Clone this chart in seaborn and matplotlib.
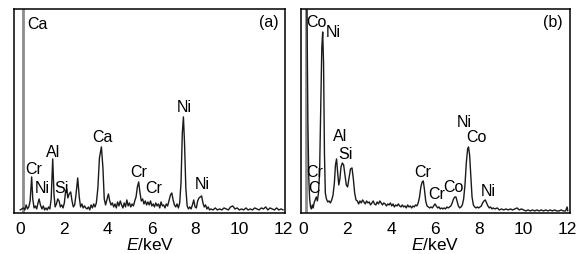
import numpy as np
import pandas as pd
import matplotlib
matplotlib.use("Agg")
import matplotlib.pyplot as plt
import seaborn as sns

# EDS spectra (intensity in arbitrary units, axis top = 204)
energy_a = [0.00, 0.08, 0.16, 0.22, 0.28, 0.34, 0.40, 0.46, 0.53, 0.58, 0.64, 0.70, 0.76, 0.82, 0.87, 0.93,
            1.00, 1.06, 1.12, 1.18, 1.24, 1.30, 1.36, 1.42, 1.49, 1.55, 1.60, 1.66, 1.72, 1.78, 1.84, 1.90,
            1.96, 2.02, 2.08, 2.13, 2.18, 2.24, 2.31, 2.37, 2.43, 2.49, 2.55, 2.63, 2.70, 2.76, 2.82, 2.88,
            2.94, 3.00, 3.06, 3.12, 3.18, 3.24, 3.30, 3.36, 3.42, 3.48, 3.55, 3.62, 3.71, 3.78, 3.84, 3.90,
            3.96, 4.03, 4.09, 4.15, 4.21, 4.27, 4.33, 4.39, 4.45, 4.51, 4.57, 4.63, 4.69, 4.75, 4.81, 4.87,
            4.93, 4.99, 5.05, 5.11, 5.17, 5.23, 5.29, 5.35, 5.41, 5.47, 5.53, 5.59, 5.65, 5.71, 5.77, 5.83,
            5.89, 5.95, 6.01, 6.07, 6.13, 6.19, 6.25, 6.31, 6.37, 6.43, 6.49, 6.55, 6.61, 6.67, 6.73, 6.79,
            6.86, 6.92, 6.98, 7.04, 7.10, 7.16, 7.22, 7.28, 7.34, 7.40, 7.45, 7.50, 7.56, 7.62, 7.68, 7.74,
            7.80, 7.86, 7.92, 7.98, 8.04, 8.10, 8.16, 8.22, 8.28, 8.34, 8.40, 8.46, 8.52, 8.58, 8.64, 8.70,
            8.80, 8.90, 9.00, 9.10, 9.20, 9.30, 9.40, 9.50, 9.60, 9.70, 9.80, 9.90, 10.0, 10.1, 10.2, 10.3,
            10.4, 10.5, 10.6, 10.7, 10.8, 10.9, 11.0, 11.1, 11.2, 11.3, 11.4, 11.5, 11.6, 11.7, 11.8, 11.9,
            12.0]
counts_a = [3, 4, 5, 3, 8, 4, 6, 12, 36, 14, 5, 7, 4, 10, 14, 8,
            4, 7, 3, 5, 3, 6, 4, 14, 54, 18, 6, 9, 14, 12, 6, 8,
            5, 10, 22, 24, 15, 19, 21, 12, 6, 8, 18, 35, 16, 6, 9, 5,
            7, 5, 4, 6, 3, 8, 5, 9, 6, 10, 25, 55, 66, 45, 14, 8,
            13, 19, 12, 8, 10, 6, 9, 5, 11, 7, 12, 8, 5, 10, 6, 13,
            7, 10, 6, 9, 7, 12, 16, 26, 31, 20, 12, 14, 9, 12, 8, 11,
            8, 12, 7, 9, 6, 10, 7, 9, 5, 11, 7, 8, 5, 9, 7, 12,
            18, 20, 13, 8, 6, 9, 5, 10, 30, 80, 96, 70, 25, 7, 4, 6,
            4, 8, 13, 6, 5, 12, 15, 16, 17, 10, 6, 8, 4, 6, 3, 4,
            3, 5, 3, 4, 3, 5, 4, 3, 6, 7, 4, 5, 3, 4, 3, 5,
            3, 4, 3, 5, 4, 3, 5, 4, 6, 3, 5, 4, 3, 5, 3, 4,
            3]

energy_b = [0.16, 0.19, 0.22, 0.26, 0.30, 0.34, 0.38, 0.42, 0.46, 0.50, 0.55, 0.60, 0.65, 0.70, 0.75, 0.80,
            0.85, 0.89, 0.93, 0.97, 1.01, 1.06, 1.12, 1.18, 1.24, 1.30, 1.36, 1.42, 1.47, 1.52, 1.57, 1.62,
            1.67, 1.72, 1.78, 1.84, 1.90, 1.96, 2.02, 2.08, 2.15, 2.22, 2.28, 2.34, 2.40, 2.46, 2.52, 2.58,
            2.64, 2.70, 2.76, 2.82, 2.88, 2.94, 3.00, 3.06, 3.12, 3.18, 3.24, 3.30, 3.36, 3.42, 3.48, 3.54,
            3.60, 3.66, 3.72, 3.78, 3.84, 3.90, 3.96, 4.02, 4.08, 4.14, 4.20, 4.26, 4.32, 4.38, 4.44, 4.50,
            4.56, 4.62, 4.68, 4.74, 4.80, 4.86, 4.92, 4.98, 5.04, 5.10, 5.16, 5.22, 5.28, 5.34, 5.40, 5.45,
            5.50, 5.56, 5.62, 5.68, 5.74, 5.80, 5.86, 5.92, 5.98, 6.04, 6.10, 6.16, 6.22, 6.28, 6.34, 6.40,
            6.46, 6.52, 6.58, 6.64, 6.70, 6.76, 6.82, 6.88, 6.93, 6.98, 7.04, 7.10, 7.16, 7.22, 7.28, 7.34,
            7.40, 7.46, 7.50, 7.55, 7.60, 7.66, 7.72, 7.78, 7.84, 7.90, 7.96, 8.02, 8.08, 8.14, 8.20, 8.26,
            8.32, 8.38, 8.44, 8.50, 8.56, 8.62, 8.70, 8.80, 8.90, 9.00, 9.10, 9.20, 9.30, 9.40, 9.50, 9.60,
            9.70, 9.80, 9.90, 10.0, 10.1, 10.2, 10.3, 10.4, 10.5, 10.6, 10.7, 10.8, 10.9, 11.0, 11.1, 11.2,
            11.3, 11.4, 11.5, 11.6, 11.7, 11.8, 11.9, 11.97, 12.0]
counts_b = [230, 170, 90, 35, 14, 6, 4, 8, 5, 10, 13, 16, 12, 20, 40, 100,
            165, 181, 150, 60, 20, 14, 11, 12, 10, 13, 18, 30, 48, 54, 40, 28,
            34, 46, 50, 48, 38, 28, 26, 34, 44, 45, 34, 20, 13, 12, 9, 12,
            10, 13, 11, 9, 12, 10, 11, 8, 10, 12, 9, 8, 11, 9, 12, 10,
            8, 10, 9, 7, 9, 8, 10, 7, 9, 6, 8, 7, 9, 7, 6, 8,
            6, 7, 5, 8, 6, 7, 5, 7, 6, 8, 7, 10, 16, 26, 31, 32,
            24, 12, 7, 6, 5, 6, 5, 7, 9, 7, 5, 6, 4, 5, 4, 5,
            4, 6, 5, 6, 7, 10, 14, 16, 16, 12, 7, 5, 6, 8, 14, 28,
            50, 64, 66, 58, 38, 16, 8, 6, 5, 6, 5, 6, 7, 10, 12, 13,
            10, 7, 5, 6, 4, 5, 4, 5, 3, 4, 3, 4, 3, 4, 3, 4,
            5, 3, 4, 3, 2, 3, 2, 3, 2, 3, 2, 3, 2, 3, 2, 3,
            2, 3, 2, 2, 3, 2, 2, 6, 2]

# saturated low-energy line drawn in grey
sat_line_a = 0.12
sat_line_b = 0.14

# peak labels: (text, energy, height, alignment)
labels_a = [("Ca", 0.32, 189, "left"), ("Cr", 0.60, 44, "center"), ("Ni", 1.02, 25, "center"),
            ("Al", 1.49, 61, "center"), ("Si", 1.90, 25, "center"), ("Ca", 3.75, 76, "center"),
            ("Cr", 5.39, 41, "center"), ("Cr", 6.11, 25, "center"), ("Ni", 7.50, 106, "center"),
            ("Ni", 8.29, 29, "center")]
labels_b = [("Co", 0.60, 191, "center"), ("Ni", 1.36, 181, "center"), ("Cr", 0.53, 41, "center"),
            ("C", 0.50, 25, "center"), ("Al", 1.66, 77, "center"), ("Si", 1.92, 59, "center"),
            ("Cr", 5.43, 41, "center"), ("Cr", 6.04, 19, "center"), ("Co", 6.82, 26, "center"),
            ("Ni", 7.32, 91, "center"), ("Co", 7.85, 76, "center"), ("Ni", 8.38, 22, "center")]

sns.set_theme(style="white")
plt.rcParams["font.family"] = ["Liberation Sans", "DejaVu Sans"]
plt.rcParams["mathtext.fontset"] = "custom"
plt.rcParams["mathtext.it"] = "Liberation Sans:italic"
plt.rcParams["mathtext.rm"] = "Liberation Sans"

fig = plt.figure(figsize=(5.88, 2.55), dpi=100)
ax_a = fig.add_axes([0.024, 0.161, 0.461, 0.8])
ax_b = fig.add_axes([0.512, 0.161, 0.457, 0.8])

panels = [
    (ax_a, energy_a, counts_a, sat_line_a, labels_a, "(a)", (-0.27, 12.09)),
    (ax_b, energy_b, counts_b, sat_line_b, labels_b, "(b)", (-0.09, 12.09)),
]

for ax, en, ct, sat, labs, tag, xl in panels:
    df = pd.DataFrame({"E": en, "I": ct})
    ax.axvline(sat, color="#8c8c8c", lw=2.0, zorder=1)
    sns.lineplot(data=df, x="E", y="I", ax=ax, color="#1a1a1a", lw=1.0,
                 estimator=None, sort=False, zorder=2)
    ax.set_xlim(*xl)
    ax.set_ylim(0, 204)
    ax.set_xticks(range(0, 13, 2))
    ax.set_yticks([])
    ax.tick_params(axis="x", length=0, pad=6, labelsize=12.5, colors="black")
    ax.set_xlabel("$\\it{E}$/keV", fontsize=12.5, labelpad=0, color="black")
    ax.set_ylabel("")
    for s in ax.spines.values():
        s.set_visible(True)
        s.set_color("black")
        s.set_linewidth(1.1)
    for txt, x, y, ha in labs:
        ax.text(x, y, txt, ha=ha, va="center", fontsize=11.5, color="black")
    ax.text(11.77, 191, tag, ha="right", va="center", fontsize=11.5, color="black")

fig.savefig("out.png", dpi=100)
